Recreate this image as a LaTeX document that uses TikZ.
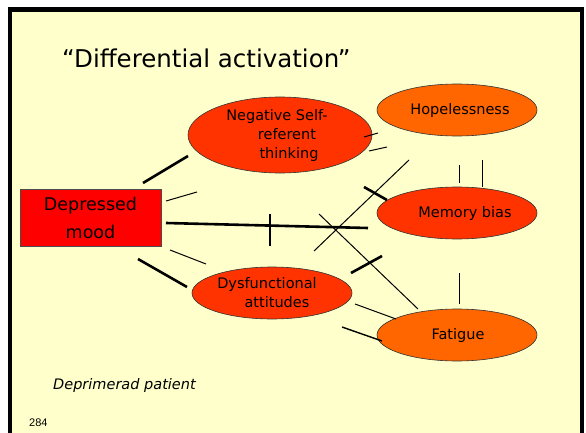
\documentclass[tikz,border=0pt]{standalone}
\usepackage{fontspec}
\setmainfont{DejaVu Sans}
\newfontfamily\numfont{Liberation Sans}
\usetikzlibrary{shapes.geometric}
\definecolor{slidebg}{HTML}{FFFFCC}
\definecolor{hotred}{HTML}{FF3300}
\definecolor{amber}{HTML}{FF6600}
\definecolor{moodred}{HTML}{FF0000}
\begin{document}
\begin{tikzpicture}[x=1pt,y=-1pt,
  bubble/.style={ellipse, draw=black!80, line width=0.6pt, inner sep=0pt,
    minimum width=160pt, minimum height=52pt,
    font=\fontsize{14.5}{19}\selectfont, align=center},
  thinseg/.style={line width=1pt, black},
  thickseg/.style={line width=2.6pt, black},
]
% slide frame
\useasboundingbox (0,0) rectangle (586,433);
\fill[white] (0,0) rectangle (586,433);
\fill[black] (8,7) rectangle (584,433);
\fill[slidebg] (12,12) rectangle (580,433);

% title
\node[anchor=base west, inner sep=0pt, font=\fontsize{24.5}{28}\selectfont] (title) at (62,68) {“Differential activation”};

% concepts
\node[draw=black!70, line width=0.6pt, fill=moodred, minimum width=141pt, minimum height=57pt,
  inner sep=0pt, align=center, font=\fontsize{17.5}{28}\selectfont] (mood) at (90.5,217.5) {Depressed\\mood};
\node[bubble, fill=hotred, minimum width=184pt, minimum height=76pt] (nsr) at (280,135)
  {Negative Self-\hspace*{6pt}\\\hspace*{14pt}referent\\\hspace*{18pt}thinking};
\node[bubble, fill=amber] (hope) at (457,110) {\hspace*{6pt}Hopelessness};
\node[bubble, fill=hotred] (mem) at (457,213) {\hspace*{16pt}Memory bias};
\node[bubble, fill=hotred] (dys) at (272,293) {Dysfunctional\hspace*{10pt}\\\hspace*{10pt}attitudes};
\node[bubble, fill=amber] (fat) at (457,335) {\hspace*{2pt}Fatigue};

% link fragments around the mood box
\draw[thickseg] (143,183) -- (188,156);
\draw[thinseg] (166,201) -- (197,192);
\draw[thickseg] (166,223) -- (368,228);
\draw[thickseg] (270,214) -- (270,246);
\draw[thinseg] (170,250) -- (206,264);
\draw[thickseg] (138,259) -- (187,287);

% fragments on the right of the thinking bubble
\draw[thinseg] (364,137) -- (378,133);
\draw[thinseg] (369,151) -- (387,147);

% between hopelessness and memory bias
\draw[thinseg] (459,165) -- (459,183);
\draw[thinseg] (482,160) -- (482,187);

% crossing links
\draw[thinseg] (409,160) -- (314,251);
\draw[thickseg] (364,187) -- (387,200);
\draw[thinseg] (319,214) -- (418,309);
\draw[thickseg] (351,273) -- (382,256);

% fragments near fatigue
\draw[thinseg] (459,273) -- (459,304);
\draw[thinseg] (355,304) -- (396,319);
\draw[line width=1.4pt] (342,327) -- (382,341);

% captions
\node[anchor=base west, inner sep=0pt, font=\itshape\fontsize{14.5}{17}\selectfont] (caption) at (53,389) {Deprimerad patient};
\node[anchor=base west, inner sep=0pt, font=\numfont\fontsize{11}{13}\selectfont] (slideno) at (29,426) {284};
\end{tikzpicture}
\end{document}
